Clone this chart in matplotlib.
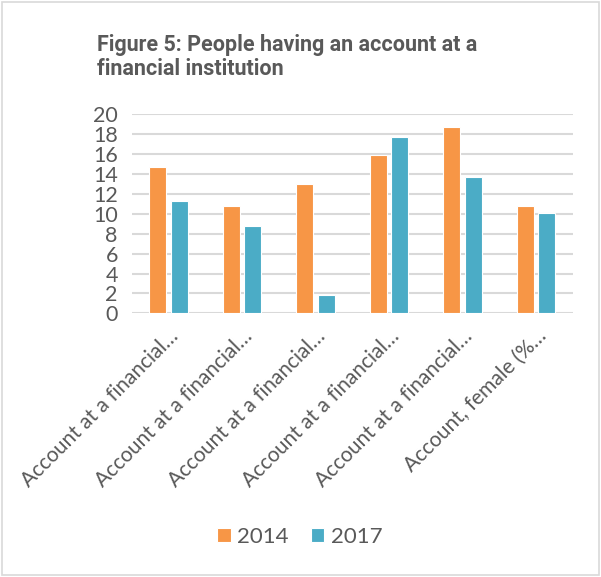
import matplotlib.pyplot as plt
import numpy as np
from matplotlib.patches import Rectangle

categories = ["Account at a financial\u2026", "Account at a financial\u2026",
              "Account at a financial\u2026", "Account at a financial\u2026",
              "Account at a financial\u2026", "Account, female (%\u2026"]
vals_2014 = [14.7, 10.8, 13.0, 15.9, 18.7, 10.8]
vals_2017 = [11.3, 8.8, 1.8, 17.7, 13.7, 10.1]

grey = "#595959"
plt.rcParams['font.family'] = ['Lato', 'DejaVu Sans']

fig = plt.figure(figsize=(6.01, 5.77), dpi=100)
ax = fig.add_axes([131.7/601, 1 - 313.3/577, 441/601, 199/577])

x = np.arange(len(categories))
w = 0.23
ax.bar(x - 0.145, vals_2014, w, color="#F79646", edgecolor="white", linewidth=0.8, label="2014", zorder=3)
ax.bar(x + 0.145, vals_2017, w, color="#4BACC6", edgecolor="white", linewidth=0.8, label="2017", zorder=3)

ax.set_xlim(-0.5, 5.5)
ax.set_ylim(0, 20)
ax.set_yticks(range(0, 21, 2))
ax.yaxis.grid(True, color="#D9D9D9", linewidth=1.5, zorder=0)
ax.tick_params(axis='y', length=0, labelsize=15.5, labelcolor=grey, pad=10)
ax.tick_params(axis='x', length=0, labelsize=15, labelcolor=grey, pad=9)
ax.set_xticks(x)
ax.set_xticklabels(categories, rotation=45, ha='right', rotation_mode='anchor')
for s in ax.spines.values():
    s.set_visible(False)

fig.text(97/601, 1 - 57/577, "Figure 5: People having an account at a\nfinancial institution",
         fontsize=15.5, fontweight='bold', color=grey, va='center', ha='left',
         family=['Roboto', 'DejaVu Sans'], linespacing=1.15)

fig.legend(loc='center', bbox_to_anchor=(300/601, 1 - 537/577), ncol=2, frameon=False,
           fontsize=16, labelcolor=grey, handlelength=0.6, handleheight=0.6,
           handletextpad=0.3, columnspacing=1.0)

fig.patches.append(Rectangle((0.004, 0.003), 0.992, 0.994, transform=fig.transFigure,
                             fill=False, edgecolor="#D9D9D9", linewidth=1.2))

plt.savefig('out.png', dpi=100)
